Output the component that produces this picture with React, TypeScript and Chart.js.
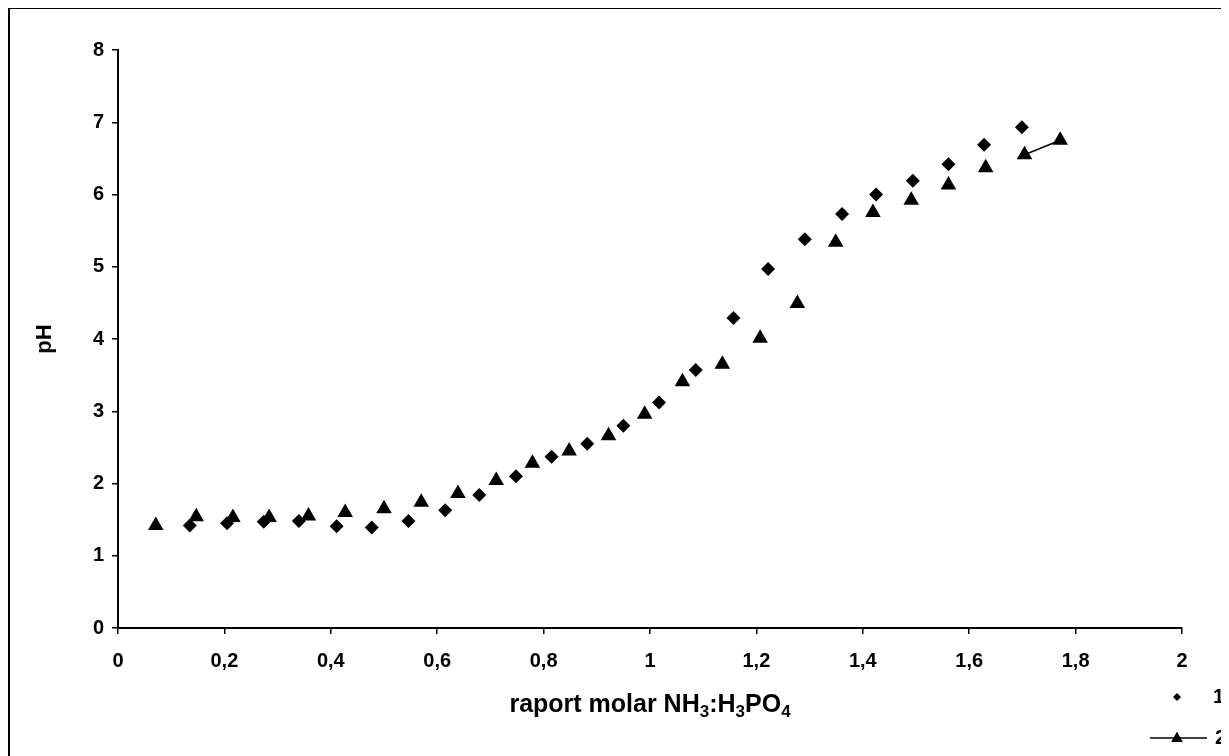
import React, { useEffect, useRef } from 'react';
import { Chart, registerables } from 'chart.js';

Chart.register(...registerables);

// Series 1 (diamonds)
const series1X = [0.135, 0.205, 0.274, 0.34, 0.411, 0.477, 0.546, 0.615, 0.679, 0.748, 0.815, 0.882, 0.95, 1.017, 1.086, 1.157, 1.222, 1.291, 1.361, 1.425, 1.494, 1.561, 1.628, 1.699];
const series1Y = [1.42, 1.45, 1.47, 1.48, 1.41, 1.39, 1.48, 1.63, 1.84, 2.1, 2.37, 2.55, 2.8, 3.12, 3.57, 4.29, 4.97, 5.38, 5.73, 6.0, 6.19, 6.42, 6.69, 6.93];

// Series 2 (triangles)
const series2X = [0.071, 0.147, 0.216, 0.284, 0.358, 0.427, 0.5, 0.57, 0.639, 0.711, 0.779, 0.848, 0.922, 0.99, 1.061, 1.136, 1.207, 1.277, 1.349, 1.419, 1.491, 1.561, 1.631, 1.704, 1.771];
const series2Y = [1.42, 1.54, 1.53, 1.53, 1.55, 1.6, 1.65, 1.74, 1.86, 2.04, 2.28, 2.45, 2.66, 2.96, 3.41, 3.65, 4.01, 4.49, 5.34, 5.75, 5.92, 6.13, 6.37, 6.55, 6.75];

const seriesNames = ['1', '2'];

const xTickValues = [0, 0.2, 0.4, 0.6, 0.8, 1, 1.2, 1.4, 1.6, 1.8, 2];
const xTickLabels = ['0', '0,2', '0,4', '0,6', '0,8', '1', '1,2', '1,4', '1,6', '1,8', '2'];
const yTickValues = [0, 1, 2, 3, 4, 5, 6, 7, 8];
const yTickLabels = ['0', '1', '2', '3', '4', '5', '6', '7', '8'];

// x-axis title pieces: [text, isSubscript]
const xTitleParts: [string, boolean][] = [
  ['raport molar NH', false],
  ['3', true],
  [':H', false],
  ['3', true],
  ['PO', false],
  ['4', true],
];
const yTitle = 'pH';

const FONT = "'Liberation Sans', Arial, 'DejaVu Sans', sans-serif";

export default function App() {
  const ref = useRef<HTMLCanvasElement>(null);

  useEffect(() => {
    document.body.style.overflow = 'hidden';
    const canvas = ref.current;
    if (!canvas) return;

    const decorPlugin = {
      id: 'decor',
      afterDraw(chart: any) {
        const c = chart.ctx as CanvasRenderingContext2D;
        c.save();
        c.fillStyle = '#000';
        c.strokeStyle = '#000';

        // x-axis title with subscripts
        const mainFont = `bold 25px ${FONT}`;
        const subFont = `bold 17px ${FONT}`;
        let total = 0;
        for (const [t, sub] of xTitleParts) {
          c.font = sub ? subFont : mainFont;
          total += c.measureText(t).width;
        }
        const area = chart.chartArea;
        let x = (area.left + area.right) / 2 - total / 2;
        const base = 703;
        c.textBaseline = 'alphabetic';
        c.textAlign = 'left';
        for (const [t, sub] of xTitleParts) {
          c.font = sub ? subFont : mainFont;
          c.fillText(t, x, sub ? base + 5 : base);
          x += c.measureText(t).width;
        }

        // legend item 1: diamond
        const dx = 1167, dy = 688, dr = 4;
        c.beginPath();
        c.moveTo(dx, dy - dr);
        c.lineTo(dx + dr, dy);
        c.lineTo(dx, dy + dr);
        c.lineTo(dx - dr, dy);
        c.closePath();
        c.fill();
        // legend item 2: line + triangle
        const tx = 1167, ty = 729, tr = 6.5;
        c.lineWidth = 1.5;
        c.beginPath();
        c.moveTo(1140, ty);
        c.lineTo(1197, ty);
        c.stroke();
        c.beginPath();
        c.moveTo(tx, ty - tr);
        c.lineTo(tx + tr * 0.9, ty + tr * 0.6);
        c.lineTo(tx - tr * 0.9, ty + tr * 0.6);
        c.closePath();
        c.fill();
        c.font = `bold 20px ${FONT}`;
        c.textBaseline = 'middle';
        c.fillText(chart.data.datasets[0].label, 1203, dy);
        c.fillText(chart.data.datasets[1].label, 1205, ty);
        c.restore();
      },
    };

    const chart = new Chart(canvas, {
      type: 'scatter',
      data: {
        datasets: [
          {
            label: seriesNames[0],
            data: series1X.map((x, i) => ({ x, y: series1Y[i] })),
            pointStyle: 'rectRot',
            pointRadius: 7,
            pointHoverRadius: 7,
            backgroundColor: '#000',
            borderColor: '#000',
            borderWidth: 0,
            showLine: false,
          },
          {
            label: seriesNames[1],
            data: series2X.map((x, i) => ({ x, y: series2Y[i] })),
            pointStyle: 'triangle',
            pointRadius: 9,
            pointHoverRadius: 9,
            pointBackgroundColor: '#000',
            pointBorderColor: '#000',
            pointBorderWidth: 0,
            backgroundColor: '#000',
            borderColor: 'rgba(0,0,0,0)',
            borderWidth: 1.5,
            showLine: true,
            segment: {
              borderColor: (s: any) => (s.p1DataIndex === series2X.length - 1 ? '#000' : 'rgba(0,0,0,0)'),
            },
          },
        ],
      },
      options: {
        animation: false,
        responsive: true,
        maintainAspectRatio: false,
        layout: { padding: { left: 0, top: 41, right: 47, bottom: 0 } },
        plugins: {
          legend: { display: false },
          tooltip: { enabled: false },
        },
        scales: {
          x: {
            type: 'linear',
            min: 0,
            max: 2,
            afterFit: (scale: any) => {
              scale.height = 128;
            },
            afterBuildTicks: (scale: any) => {
              scale.ticks = xTickValues.map((v) => ({ value: v }));
            },
            ticks: {
              callback: (_v: any, i: number) => xTickLabels[i],
              color: '#000',
              font: { family: FONT, size: 20, weight: 'bold' },
              padding: 15,
              maxRotation: 0,
              autoSkip: false,
            },
            grid: { display: true, drawOnChartArea: false, drawTicks: true, tickLength: 6, color: '#000', lineWidth: 1.5 },
            border: { display: true, color: '#000', width: 2 },
            title: { display: false },
          },
          y: {
            type: 'linear',
            min: 0,
            max: 8,
            afterFit: (scale: any) => {
              scale.width = 108;
            },
            afterBuildTicks: (scale: any) => {
              scale.ticks = yTickValues.map((v) => ({ value: v }));
            },
            ticks: {
              callback: (_v: any, i: number) => yTickLabels[i],
              color: '#000',
              font: { family: FONT, size: 20, weight: 'bold' },
              padding: 8,
              autoSkip: false,
            },
            grid: { display: true, drawOnChartArea: false, drawTicks: true, tickLength: 6, color: '#000', lineWidth: 1.5 },
            border: { display: true, color: '#000', width: 2 },
            title: {
              display: true,
              text: yTitle,
              color: '#000',
              font: { family: FONT, size: 22, weight: 'bold' },
              padding: { top: 22, bottom: 0 },
            },
          },
        },
      },
      plugins: [decorPlugin],
    });

    return () => chart.destroy();
  }, []);

  return (
    <div
      style={{
        position: 'relative',
        width: 1219,
        height: 747,
        marginTop: -1,
        borderTop: '2px solid #000',
        borderLeft: '2px solid #000',
        background: '#fff',
      }}
    >
      <canvas ref={ref} />
    </div>
  );
}
